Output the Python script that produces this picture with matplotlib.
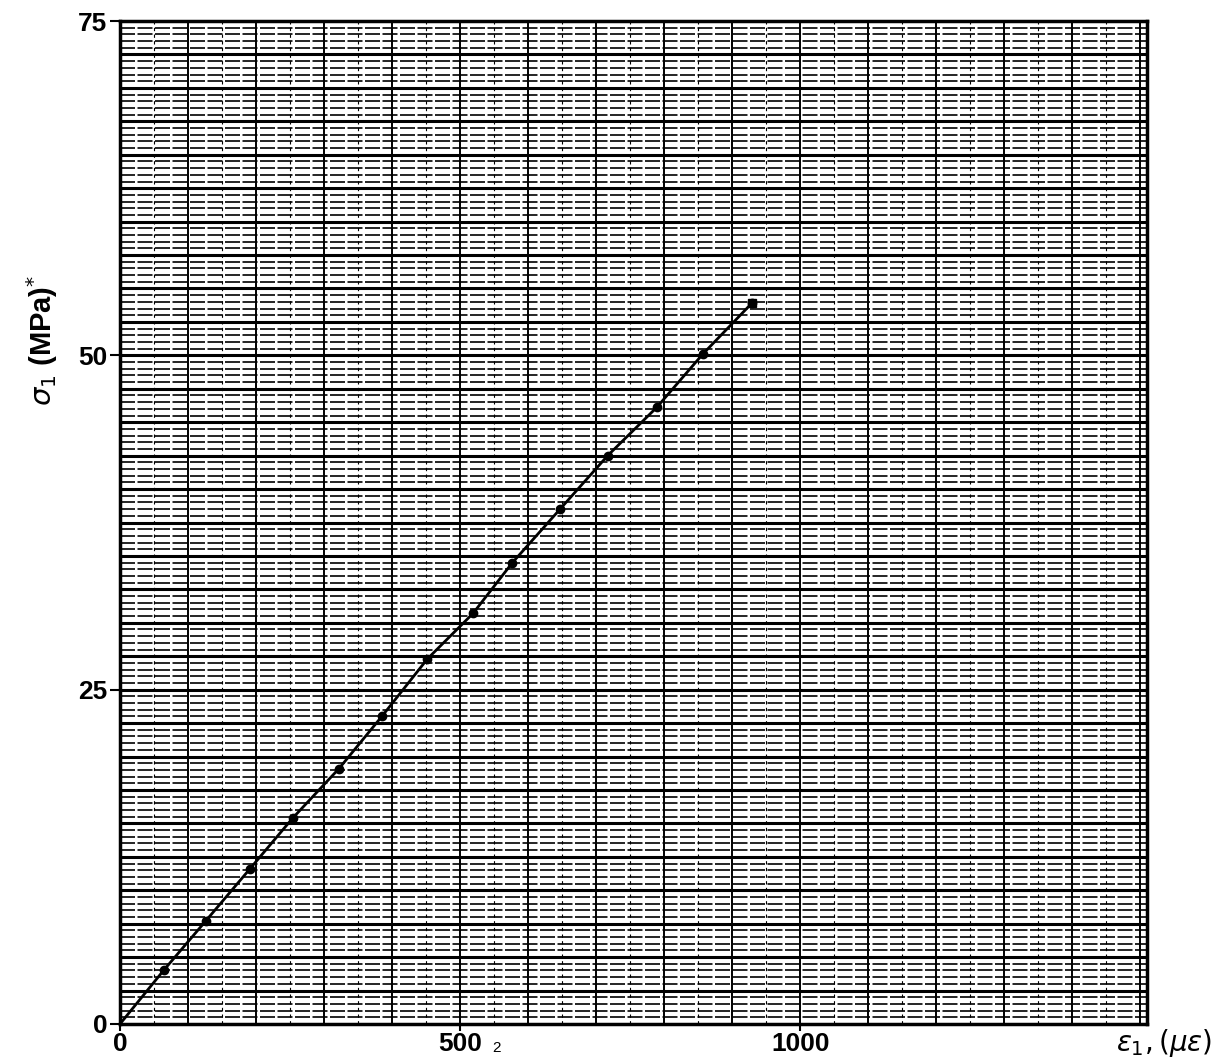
import numpy as np
import matplotlib.pyplot as plt
from matplotlib.ticker import MultipleLocator

# strain (micro-strain) and stress (MPa)
strain = [0, 64, 126, 191, 254, 322, 385, 452, 519, 577, 647, 717, 789, 857, 929]
stress = [0, 4.0, 7.7, 11.6, 15.4, 19.1, 23.0, 27.3, 30.7, 34.5, 38.5, 42.5, 46.1, 50.1, 53.9]

xticks = [0, 500, 1000]
yticks = [0, 25, 50, 75]

plt.rcParams['font.family'] = ['Liberation Sans', 'DejaVu Sans']

fig = plt.figure(figsize=(12.32, 10.62), dpi=100)
ax = fig.add_axes([0.0974, 0.0358, 0.8336, 0.9444])

# graph paper
for y in np.arange(0.5, 75, 0.5):
    major = abs(y / 2.5 - round(y / 2.5)) < 1e-6
    ax.axhline(y, color='black', lw=2.2 if major else 1.2,
               ls='-' if major else (0, (9, 1.5)), zorder=1)
for x in np.arange(50, 1510, 50):
    major = x % 100 == 0
    ax.axvline(x, color='black', lw=1.4 if major else 0.8,
               ls='-' if major else (0, (3, 3)), zorder=1)

ax.plot(strain, stress, color='black', lw=2.0, zorder=3)
ax.plot(strain[1:], stress[1:], 'o', color='black', ms=6, zorder=4)
ax.plot(strain[-1], stress[-1], 's', color='black', ms=6, zorder=4)

ax.set_xlim(0, 1510)
ax.set_ylim(0, 75)
ax.set_xticks(xticks)
ax.set_yticks(yticks)
ax.tick_params(axis='x', which='major', length=5, width=1.5, labelsize=19, pad=1)
ax.tick_params(axis='y', which='major', length=7, width=1.5, labelsize=19, pad=2)
for lab in ax.get_xticklabels() + ax.get_yticklabels():
    lab.set_fontweight('bold')
for s in ax.spines.values():
    s.set_linewidth(2.5)

fig.text(0.034, 0.68, r'$\sigma_1$ (MPa)$^{*}$', rotation=90,
         fontsize=21, fontweight='bold', ha='center', va='center')
fig.text(0.945, 0.018, r'$\varepsilon_1,(\mu\varepsilon)$', fontsize=20,
         ha='center', va='center')
fig.text(0.403, 0.013, '2', fontsize=11, ha='center', va='center')

fig.savefig('out.png', dpi=100)
